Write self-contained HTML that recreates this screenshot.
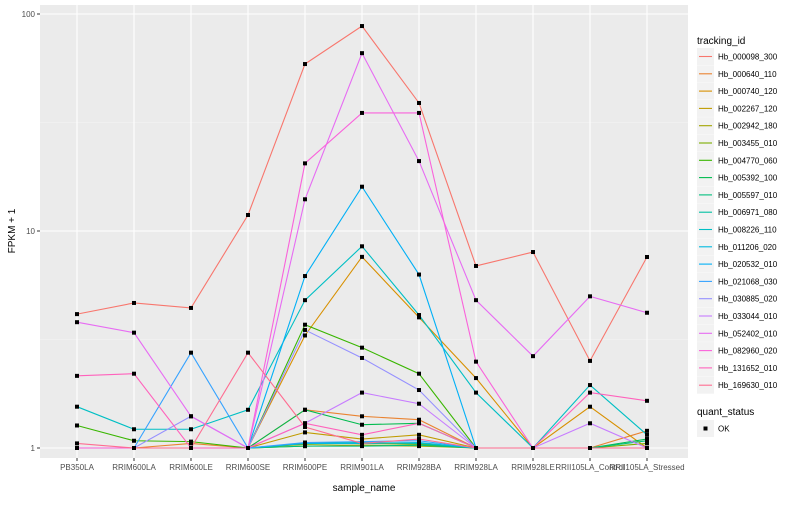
<!DOCTYPE html>
<html><head><meta charset="utf-8"><style>
body{margin:0;background:#fff;font-family:"Liberation Sans",sans-serif;}
svg text{font-family:"Liberation Sans",sans-serif;}
</style></head><body>
<svg id="chart" width="800" height="500" viewBox="0 0 800 500">
<rect x="0" y="0" width="800" height="500" fill="#fff"/>
<rect x="40" y="5" width="648" height="453" fill="#EBEBEB"/>
<g id="grid"></g><g id="lines"></g><g id="points"></g><g id="axes"></g><g id="legend"></g>
</svg>
<script>
const categories=["PB350LA","RRIM600LA","RRIM600LE","RRIM600SE","RRIM600PE","RRIM901LA","RRIM928BA","RRIM928LA","RRIM928LE","RRII105LA_Control","RRII105LA_Stressed"];
const seriesNames=["Hb_000098_300","Hb_000640_110","Hb_000740_120","Hb_002267_120","Hb_002942_180","Hb_003455_010","Hb_004770_060","Hb_005392_100","Hb_005597_010","Hb_006971_080","Hb_008226_110","Hb_011206_020","Hb_020532_010","Hb_021068_030","Hb_030885_020","Hb_033044_010","Hb_052402_010","Hb_082960_020","Hb_131652_010","Hb_169630_010"];
const colors=["#F8766D","#EA8331","#D89000","#C09B00","#A3A500","#7CAE00","#39B600","#00BB4E","#00BF7D","#00C1A3","#00BFC4","#00BAE0","#00B0F6","#35A2FF","#9590FF","#C77CFF","#E76BF3","#FA62DB","#FF62BC","#FF6C91"];
const s1=[4.14,4.66,4.42,11.85,58.8,88,38.9,6.9,8.0,2.52,7.59];
const s2=[1,1,1.05,1,1.5,1.4,1.35,1,1,1,1.2];
const s3=[1,1,1,1,3.3,7.6,4.0,2.1,1,1.55,1.0];
const s4=[1,1,1,1,1.18,1.1,1.15,1,1,1,1];
const s5=[1,1,1,1,1.02,1.03,1.02,1,1,1,1];
const s6=[1,1,1,1,1.04,1.05,1.04,1,1,1,1.05];
const s7=[1.27,1.08,1.07,1,3.7,2.9,2.2,1,1,1,1];
const s8=[1,1,1,1,1.5,1.28,1.3,1,1,1,1.1];
const s9=[1,1,1,1,1.02,1.02,1.03,1,1,1,1.08];
const s10=[1,1,1,1,1.05,1.06,1.05,1,1,1,1];
const s11=[1.55,1.22,1.22,1.5,4.8,8.5,4.1,1.8,1,1.95,1.15];
const s12=[1,1,1,1,1.05,1.05,1.06,1,1,1,1];
const s13=[1,1,1,1,6.2,16,6.3,1,1,1,1];
const s14=[1,1,2.75,1,1.06,1.07,1.08,1,1,1,1];
const s15=[1,1,1.4,1,3.5,2.6,1.85,1,1,1,1];
const s16=[1,1,1,1,1.3,1.8,1.6,1,1,1.3,1];
const s17=[3.8,3.4,1.4,1,14,66,21,4.8,2.65,5.0,4.2];
const s18=[1,1,1,1,20.5,35,35,2.5,1,1,1];
const s19=[2.15,2.2,1.0,1,1.3,1.15,1.3,1,1,1.8,1.65];
const s20=[1.05,1.0,1.0,2.75,1.25,1.05,1.1,1,1,1,1];
const seriesValues=[s1,s2,s3,s4,s5,s6,s7,s8,s9,s10,s11,s12,s13,s14,s15,s16,s17,s18,s19,s20];
const yTicks=[1,10,100];
const yTickLabels=["1","10","100"];
const NS="http://www.w3.org/2000/svg";
function xs(i){return 77+i*57;}
function ys(v){return 448-217*Math.log10(v);}
function mk(tag,attrs,parent){const e=document.createElementNS(NS,tag);for(const k in attrs)e.setAttribute(k,attrs[k]);parent.appendChild(e);return e;}
const grid=document.getElementById('grid');
[Math.sqrt(10),Math.sqrt(1000)].forEach(v=>{const l=mk('line',{x1:40,x2:688,y1:ys(v),y2:ys(v),stroke:'#F5F5F5','stroke-width':0.6},grid);

});
yTicks.forEach(v=>{const l=mk('line',{x1:40,x2:688,y1:ys(v),y2:ys(v),stroke:'#fff','stroke-width':1.1},grid);

});
categories.forEach((c,i)=>{const l=mk('line',{x1:xs(i),x2:xs(i),y1:5,y2:458,stroke:'#fff','stroke-width':1.1},grid);

});
const lines=document.getElementById('lines'),pts=document.getElementById('points');
seriesValues.forEach((vals,si)=>{
const p=mk('polyline',{points:vals.map((v,i)=>xs(i)+','+ys(v)).join(' '),fill:'none',stroke:colors[si],'stroke-width':1.1},lines);


vals.forEach((v,i)=>{const r=mk('rect',{x:xs(i)-2,y:ys(v)-2,width:4,height:4,fill:'#000'},pts);

});
});
const ax=document.getElementById('axes');
yTicks.forEach((v,i)=>{mk('line',{x1:37,x2:40,y1:ys(v),y2:ys(v),stroke:'#333'},ax);
const t=mk('text',{x:35,y:ys(v)+3,'text-anchor':'end','font-size':8,fill:'#4D4D4D'},ax);t.textContent=yTickLabels[i];

});
categories.forEach((c,i)=>{mk('line',{x1:xs(i),x2:xs(i),y1:458,y2:461,stroke:'#333'},ax);
const t=mk('text',{x:xs(i),y:470,'text-anchor':'middle','font-size':8,fill:'#4D4D4D'},ax);t.textContent=c;

});
let t=mk('text',{x:364,y:491,'text-anchor':'middle','font-size':10,fill:'#000'},ax);t.textContent='sample_name';


t=mk('text',{x:15,y:231,'text-anchor':'middle','font-size':10,fill:'#000',transform:'rotate(-90 15 231)'},ax);t.textContent='FPKM + 1';


const lg=document.getElementById('legend');
t=mk('text',{x:697,y:44,'font-size':10,fill:'#000'},lg);t.textContent='tracking_id';


seriesNames.forEach((n,i)=>{const y=48+i*17.3;
const g=mk('g',{},lg);


mk('rect',{x:697,y:y,width:17,height:17,fill:'#F2F2F2'},g);
mk('line',{x1:699,x2:712,y1:y+8.5,y2:y+8.5,stroke:colors[i],'stroke-width':1.1},g);
const tt=mk('text',{x:718,y:y+11.5,'font-size':8,fill:'#000'},g);tt.textContent=n;});
t=mk('text',{x:697,y:415,'font-size':10,fill:'#000'},lg);t.textContent='quant_status';


const g2=mk('g',{},lg);


mk('rect',{x:697,y:420,width:17,height:17,fill:'#F2F2F2'},g2);
mk('rect',{x:703.5,y:426.5,width:4,height:4,fill:'#000'},g2);
t=mk('text',{x:718,y:431.5,'font-size':8,fill:'#000'},g2);t.textContent='OK';
</script>
</body></html>
